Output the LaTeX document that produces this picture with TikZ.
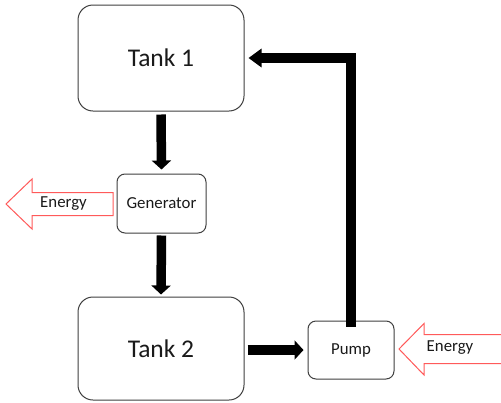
\documentclass[tikz,border=0pt]{standalone}
\usepackage{fontspec}
\setmainfont{Carlito}
\usetikzlibrary{arrows.meta}
\definecolor{boxline}{HTML}{404040}
\definecolor{energyred}{HTML}{FF5A5A}
\definecolor{txt}{HTML}{1A1A1A}
\begin{document}
\begin{tikzpicture}[x=1pt,y=-1pt,
  tank/.style={draw=boxline,line width=1pt,rounded corners=15pt,minimum width=166pt,minimum height=106pt,inner sep=0pt,text=txt,font=\fontsize{25.5}{30}\selectfont},
  smallbox/.style={draw=boxline,line width=1pt,rounded corners=8pt,inner sep=0pt,text=txt,font=\fontsize{16.8}{20}\selectfont},
  flow/.style={line width=9.5pt,-{Triangle[length=9pt,width=19pt]}},
  energy/.style={draw=energyred,line width=1pt,fill=white},
  etext/.style={inner sep=0pt,text=txt,font=\fontsize{16.8}{20}\selectfont}]
\clip (0,0) rectangle (501,402);
\fill[white] (0,0) rectangle (501,402);
\node[tank] (t1) at (161,58) {Tank 1};
\node[tank,minimum height=103pt] (t2) at (161,348.5) {Tank 2};
\node[smallbox,minimum width=89pt,minimum height=59pt] (gen) at (161.5,203.5) {Generator};
\node[smallbox,minimum width=86pt,minimum height=58pt] (pump) at (351,350) {Pump};
% connectors
\draw[flow] ([yshift=-3pt]t1.south) -- ([yshift=4pt]gen.north);
\draw[flow] ([yshift=-2pt]gen.south) -- ([yshift=2pt]t2.north);
\draw[flow] ([xshift=3pt]t2.east |- pump.west) -- ([xshift=-4pt]pump.west);
\draw[flow,-{Triangle[length=13pt,width=18pt]}] ([yshift=-6pt]pump.north) |- ([xshift=4pt]t1.east);
% energy arrows
\draw[energy] (113,192.5) -- (32,192.5) -- (32,179) -- (6,204) -- (32,229) -- (32,215.5) -- (113,215.5) -- cycle;
\node[etext] (e1) at (63.5,204) {Energy};
\draw[energy] (510,334.5) -- (424,334.5) -- (424,323.5) -- (399,349) -- (424,375) -- (424,363.5) -- (510,363.5) -- cycle;
\node[etext] (e2) at (450,348) {Energy};
\end{tikzpicture}
\end{document}
